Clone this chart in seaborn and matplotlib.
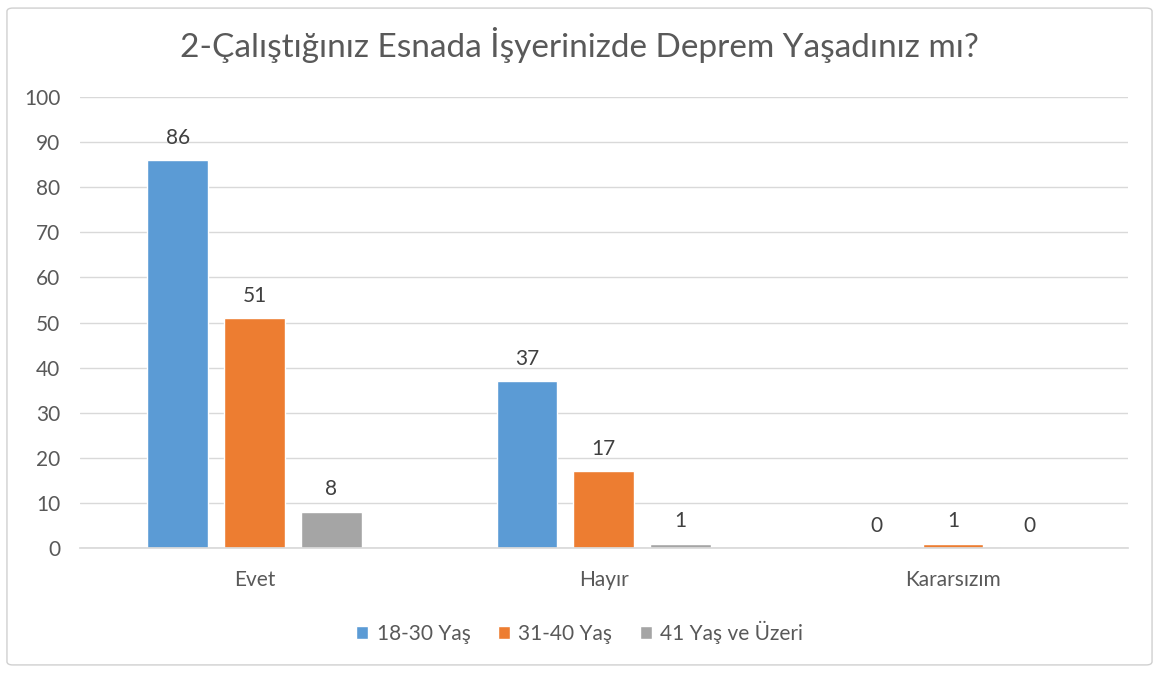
import matplotlib
matplotlib.use("Agg")
import matplotlib.pyplot as plt
from matplotlib.patches import FancyBboxPatch
import seaborn as sns
import pandas as pd

categories = ["Evet", "Hayır", "Kararsızım"]
groups = ["18-30 Yaş", "31-40 Yaş", "41 Yaş ve Üzeri"]
values_18_30 = [86, 37, 0]
values_31_40 = [51, 17, 1]
values_41_plus = [8, 1, 0]
colors = ["#5B9BD5", "#ED7D31", "#A5A5A5"]

rows = []
for g, vals in zip(groups, [values_18_30, values_31_40, values_41_plus]):
    for c, v in zip(categories, vals):
        rows.append({"Kategori": c, "Grup": g, "Değer": v})
df = pd.DataFrame(rows)

sns.set_theme(style="white")
plt.rcParams["font.family"] = ["Lato", "DejaVu Sans"]

fig = plt.figure(figsize=(11.59, 6.73), dpi=100)
ax = fig.add_axes([0.069, 0.1857, 0.904, 0.670])

sns.barplot(data=df, x="Kategori", y="Değer", hue="Grup", order=categories,
            hue_order=groups, palette=colors, width=0.66, gap=0.21,
            saturation=1, ax=ax, legend=True)

for cont in ax.containers:
    ax.bar_label(cont, fmt="%d", padding=9, fontsize=15, color="#404040")

ax.set_ylim(0, 100)
ax.set_yticks(range(0, 101, 10))
ax.set_xlim(-0.5, 2.5)
ax.yaxis.grid(True, color="#D9D9D9", linewidth=1)
ax.set_axisbelow(True)
for s in ["left", "right", "top"]:
    ax.spines[s].set_visible(False)
ax.spines["bottom"].set_color("#D9D9D9")
ax.tick_params(axis="both", length=0, labelsize=15, colors="#595959")
ax.tick_params(axis="y", pad=14)
ax.tick_params(axis="x", pad=16)
ax.set_xlabel("")
ax.set_ylabel("")

handles, labels = ax.get_legend_handles_labels()
ax.get_legend().remove()
fig.legend(handles, labels, loc="center", bbox_to_anchor=(0.5, 0.061), ncol=3,
           frameon=False, fontsize=15, labelcolor="#595959",
           handlelength=0.6, handleheight=0.6, columnspacing=1.3, handletextpad=0.4)

fig.text(0.5, 0.933, "2-Çalıştığınız Esnada İşyerinizde Deprem Yaşadınız mı?",
         ha="center", va="center", fontsize=24, color="#595959")

border = FancyBboxPatch((0.006, 0.012), 0.988, 0.976, boxstyle="round,pad=0,rounding_size=0.005",
                        transform=fig.transFigure, fill=False, edgecolor="#D0D0D0", linewidth=1)
fig.patches.append(border)

fig.savefig("out.png", dpi=100)
